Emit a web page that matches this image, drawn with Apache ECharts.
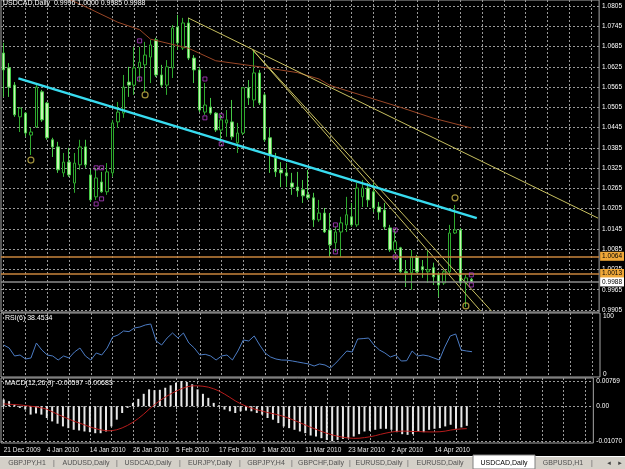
<!DOCTYPE html>
<html>
<head>
<meta charset="utf-8">
<title>USDCAD,Daily</title>
<script src="https://cdn.jsdelivr.net/npm/echarts@6/dist/echarts.min.js"></script>
<style>
  html, body { margin: 0; padding: 0; background: #000; }
  #chart { width: 625px; height: 469px; }
</style>
</head>
<body>
<div id="chart"></div>
<script>
// USDCAD 日线 K线数据
var opens = [1.0666,1.0622,1.0571,1.0477,1.0488,1.0423,1.0447,1.0551,1.0518,1.0409,
  1.0388,1.0311,1.0343,1.0281,1.0335,1.0388,1.0305,1.0240,1.0284,1.0255,
  1.0311,1.0462,1.0488,1.0580,1.0571,1.0622,1.0631,1.0654,1.0705,1.0601,
  1.0571,1.0622,1.0743,1.0681,1.0755,1.0651,1.0616,1.0491,1.0506,1.0488,
  1.0438,1.0459,1.0462,1.0400,1.0429,1.0563,1.0527,1.0607,1.0542,1.0415,
  1.0355,1.0320,1.0311,1.0281,1.0269,1.0261,1.0246,1.0237,1.0172,1.0192,
  1.0142,1.0104,1.0136,1.0157,1.0181,1.0157,1.0240,1.0266,1.0255,1.0210,
  1.0201,1.0148,1.0083,1.0089,1.0018,1.0015,1.0062,1.0033,1.0018,1.0030,
  1.0009,0.9985,1.0018,1.0133,1.0142,0.9985,0.9996];
var closes = [1.0616,1.0565,1.0483,1.0503,1.0429,1.0432,1.0565,1.0468,1.0415,1.0388,
  1.0320,1.0343,1.0305,1.0340,1.0388,1.0335,1.0231,1.0296,1.0255,1.0314,
  1.0459,1.0491,1.0565,1.0571,1.0622,1.0639,1.0660,1.0690,1.0601,1.0571,
  1.0625,1.0740,1.0696,1.0755,1.0651,1.0616,1.0497,1.0512,1.0488,1.0438,
  1.0468,1.0468,1.0418,1.0429,1.0563,1.0533,1.0607,1.0518,1.0409,1.0364,
  1.0314,1.0311,1.0302,1.0269,1.0258,1.0243,1.0237,1.0172,1.0192,1.0136,
  1.0098,1.0136,1.0163,1.0187,1.0157,1.0266,1.0266,1.0231,1.0207,1.0195,
  1.0151,1.0083,1.0107,1.0018,1.0015,1.0062,1.0018,1.0024,1.0024,1.0003,
  0.9979,1.0018,1.0133,1.0142,0.9985,1.0000,0.9988];
var lows = [1.0536,1.0536,1.0477,1.0432,1.0418,1.0364,1.0444,1.0462,1.0409,1.0358,
  1.0311,1.0299,1.0299,1.0252,1.0320,1.0326,1.0225,1.0231,1.0252,1.0246,
  1.0299,1.0444,1.0474,1.0536,1.0542,1.0580,1.0551,1.0577,1.0595,1.0565,
  1.0542,1.0592,1.0675,1.0675,1.0645,1.0577,1.0491,1.0483,1.0483,1.0432,
  1.0400,1.0418,1.0409,1.0370,1.0423,1.0512,1.0506,1.0512,1.0403,1.0311,
  1.0299,1.0269,1.0269,1.0246,1.0240,1.0222,1.0231,1.0151,1.0166,1.0133,
  1.0062,1.0077,1.0062,1.0136,1.0151,1.0151,1.0210,1.0210,1.0195,1.0172,
  1.0142,1.0077,1.0074,1.0015,0.9973,0.9965,1.0015,1.0000,0.9985,0.9979,
  0.9944,0.9979,1.0009,1.0130,0.9982,0.9914,0.9985];
var highs = [1.0696,1.0636,1.0580,1.0506,1.0491,1.0444,1.0571,1.0557,1.0521,1.0415,
  1.0403,1.0370,1.0385,1.0370,1.0409,1.0409,1.0320,1.0326,1.0314,1.0340,
  1.0468,1.0521,1.0601,1.0625,1.0684,1.0684,1.0699,1.0705,1.0711,1.0631,
  1.0645,1.0749,1.0779,1.0770,1.0770,1.0660,1.0625,1.0577,1.0533,1.0491,
  1.0483,1.0497,1.0527,1.0459,1.0565,1.0586,1.0675,1.0616,1.0548,1.0444,
  1.0370,1.0343,1.0340,1.0311,1.0314,1.0290,1.0320,1.0252,1.0231,1.0207,
  1.0192,1.0151,1.0181,1.0240,1.0222,1.0281,1.0290,1.0281,1.0281,1.0225,
  1.0222,1.0157,1.0142,1.0092,1.0053,1.0083,1.0068,1.0053,1.0083,1.0045,
  1.0018,1.0024,1.0157,1.0216,1.0148,1.0009,1.0000];

// RSI(6)
var rsiValues = [50.0,44.8,31.1,32.8,25.9,27.7,53.4,41.4,32.8,31.1,
  24.2,31.1,27.7,38.0,44.8,31.1,24.2,36.3,32.8,44.8,
  63.7,67.2,74.1,73.0,79.2,80.9,84.4,86.1,56.9,50.0,
  62.0,70.6,62.0,70.6,53.4,44.8,32.8,34.0,31.1,24.2,
  31.1,32.8,24.2,39.7,58.6,56.9,65.5,50.0,36.3,29.4,
  25.9,24.2,24.0,22.5,20.8,19.1,17.4,13.9,17.4,15.6,
  10.5,19.1,29.4,39.7,38.0,60.3,61.0,62.0,50.0,41.4,
  36.3,29.4,32.8,22.5,23.0,39.7,31.1,32.8,31.1,27.7,
  24.2,46.6,65.5,68.9,41.4,39.7,38.4534];

// MACD(12,26,9) 柱和信号线
var macdValues = [0.00206,0.00154,0.00052,-0.00052,-0.00102,-0.00255,-0.00220,-0.00255,-0.00360,-0.00462,
  -0.00532,-0.00615,-0.00668,-0.00717,-0.00738,-0.00769,-0.00791,-0.00822,-0.00822,-0.00769,
  -0.00615,-0.00409,-0.00206,-0.00052,0.00102,0.00225,0.00378,0.00514,0.00490,0.00500,
  0.00563,0.00637,0.00717,0.00769,0.00738,0.00668,0.00514,0.00378,0.00255,0.00102,
  0.00030,-0.00102,-0.00154,-0.00206,-0.00154,-0.00133,-0.00154,-0.00205,-0.00256,-0.00359,
  -0.00410,-0.00513,-0.00615,-0.00667,-0.00718,-0.00769,-0.00821,-0.00892,-0.00923,-0.00974,
  -0.01026,-0.01070,-0.01026,-0.00995,-0.00974,-0.00923,-0.00851,-0.00769,-0.00749,-0.00718,
  -0.00687,-0.00687,-0.00718,-0.00790,-0.00851,-0.00872,-0.00851,-0.00769,-0.00790,-0.00718,
  -0.00687,-0.00667,-0.00615,-0.00564,-0.00687,-0.00646,-0.00597];
var signalValues = [0.0007,0.0006,0.0005,0.0004,0.0002,0.0000,-0.0002,-0.0005,-0.0009,-0.00167,
  -0.00243,-0.00317,-0.00385,-0.00454,-0.00507,-0.00568,-0.00628,-0.00679,-0.00719,-0.00746,
  -0.00746,-0.00717,-0.0066,-0.00584,-0.00487,-0.00374,-0.00241,-0.00092,0.00047,0.00171,
  0.00279,0.00373,0.00458,0.00533,0.0059,0.00622,0.00622,0.00609,0.00582,0.00531,
  0.00463,0.00372,0.0027,0.00165,0.00074,0.00002,-0.00057,-0.00108,-0.00148,-0.00191,
  -0.00226,-0.00266,-0.00311,-0.00368,-0.00433,-0.00501,-0.0057,-0.0064,-0.00703,-0.00766,
  -0.00823,-0.00873,-0.00913,-0.00944,-0.00967,-0.00978,-0.00974,-0.00956,-0.00931,-0.00897,
  -0.00855,-0.00817,-0.00786,-0.00766,-0.00758,-0.0076,-0.00769,-0.00771,-0.00779,-0.00783,
  -0.00783,-0.00777,-0.00758,-0.00726,-0.00705,-0.0069,-0.00683];

// 移动平均线 [K线序号, 价格]
var maPoints = [[11,1.0832],[14,1.0811],[21,1.0757],[25,1.0735],[27,1.0707],[34,1.0680],
  [39,1.0643],[44,1.0632],[48,1.0623],[54,1.0608],[58,1.0589],[60,1.0570],
  [67,1.0535],[73,1.0505],[79,1.0473],[86,1.0444]];

// 趋势线
var cyanLine = [[2.7,1.0591],[87.0,1.0177]];
var yellowLines = [
  [[33.9,1.0770],[109.3,1.0177]],
  [[45.8,1.0675],[87.7,0.9902]],
  [[45.8,1.0675],[89.7,0.9902]]
];

// 水平线
var levelLines = [1.0064, 1.0013];
var bidPrice = 0.9988;

// 分形标记
var squareMarks = [[17,1.0326],[18,1.0326],[17,1.0219],[18,1.0234],[25,1.0702],[25,1.0589],
  [37,1.0589],[37,1.0474],[40,1.0480],[40,1.0397],[61,1.0157],[61,1.0077],
  [72,1.0142],[72,1.0062],[86,1.0009],[86,0.9979]];
var circleMarks = [[5,1.0349],[26,1.0542],[83,1.0237],[85,0.9917]];

// 刻度
var priceTicks = [0.9905,0.9965,1.0025,1.0085,1.0145,1.0205,1.0265,1.0325,
  1.0385,1.0445,1.0505,1.0565,1.0625,1.0685,1.0745,1.0805];
var rsiTicks = [0, 100];
var macdTicks = [0.00769, 0, -0.01070];

var tabNames = ["GBPJPY,H1","AUDUSD,Daily","USDCAD,Daily","EURJPY,Daily","GBPJPY,H4",
  "GBPCHF,Daily","EURUSD,Daily","EURUSD,Daily","USDCAD,Daily","GBPUSD,H1"];
var activeTab = 8;

// 日期分类 (跳过周末和节假日)
var slots = 110;
var monthNames = ["Jan","Feb","Mar","Apr","May","Jun","Jul","Aug","Sep","Oct","Nov","Dec"];
var holidays = ["2009-12-25","2010-01-01"];
var categories = [];
var day = new Date(Date.UTC(2009, 11, 21));
while (categories.length < slots) {
  var wd = day.getUTCDay();
  var key = day.toISOString().slice(0, 10);
  if (wd !== 0 && wd !== 6 && holidays.indexOf(key) < 0) {
    categories.push(day.getUTCDate() + " " + monthNames[day.getUTCMonth()] + " " + day.getUTCFullYear());
  }
  day.setUTCDate(day.getUTCDate() + 1);
}
var vGrid = [];
for (var k = 0; k < slots; k += 4) vGrid.push(k);

var candleData = opens.map(function (o, i) {
  return [o, closes[i], lows[i], highs[i]];
});

var chart = echarts.init(document.getElementById("chart"));
var FONT = "Liberation Sans";
var gridLine = { color: "#9a9a9a", type: [2, 2], width: 1 };
var showDate = function (index) { return index % 8 === 0 && index <= 80; };

function catAxis(g, withLabels) {
  return {
    type: "category", gridIndex: g, data: categories, boundaryGap: true,
    axisLine: { show: false },
    axisTick: { show: withLabels, interval: showDate, alignWithLabel: true, length: 3,
      lineStyle: { color: "#c0c0c0" } },
    axisLabel: { show: withLabels, interval: showDate, align: "left", margin: 4,
      color: "#e6e6e6", fontSize: 6.5, fontFamily: FONT },
    splitLine: { show: false }
  };
}
function valAxis(g) {
  return {
    type: "value", gridIndex: g, min: -0.5, max: slots - 0.5,
    axisLine: { show: false },
    axisTick: { show: false, customValues: vGrid },
    axisLabel: { show: false, customValues: vGrid },
    splitLine: { show: true, lineStyle: gridLine }
  };
}
function lineSeries(data, color, width) {
  return {
    type: "line", xAxisIndex: 1, yAxisIndex: 0, data: data, showSymbol: false,
    silent: true, lineStyle: { color: color, width: width }, z: 4
  };
}
function levelLabel(bg, fg) {
  return {
    show: true, position: "end", distance: 1, color: fg, backgroundColor: bg,
    fontSize: 6.5, fontFamily: FONT, padding: [1, 2, 1, 2],
    formatter: function (p) { return Number(p.value).toFixed(4); }
  };
}

var series = [
  {
    type: "candlestick", xAxisIndex: 0, yAxisIndex: 0, data: candleData,
    barWidth: 3, clip: false,
    itemStyle: { color: "#000000", color0: "#c8f5b4", borderColor: "#2eaa2e",
      borderColor0: "#46c846", borderWidth: 1 },
    markLine: {
      symbol: "none", silent: true, animation: false, precision: 4,
      data: [
        { yAxis: levelLines[0], lineStyle: { color: "#c8843c", width: 1.5, type: "solid" },
          label: levelLabel("#f0a838", "#000") },
        { yAxis: levelLines[1], lineStyle: { color: "#c8843c", width: 1.5, type: "solid" },
          label: levelLabel("#f0a838", "#000") },
        { yAxis: bidPrice, lineStyle: { color: "#8c8c8c", width: 1.5, type: "solid" },
          label: levelLabel("#ffffff", "#000") }
      ]
    }
  },
  lineSeries(maPoints, "#9a4626", 1),
  lineSeries(yellowLines[0], "#c8c060", 1),
  lineSeries(yellowLines[1], "#c8c060", 1),
  lineSeries(yellowLines[2], "#c8c060", 1),
  lineSeries(cyanLine, "#38dcf0", 2.5),
  {
    type: "scatter", xAxisIndex: 1, yAxisIndex: 0, data: squareMarks, symbol: "rect",
    symbolSize: 4, silent: true, z: 5,
    itemStyle: { color: "rgba(0,0,0,0)", borderColor: "#b440c8", borderWidth: 1 }
  },
  {
    type: "scatter", xAxisIndex: 1, yAxisIndex: 0, data: circleMarks, symbol: "circle",
    symbolSize: 6, silent: true, z: 5,
    itemStyle: { color: "rgba(0,0,0,0)", borderColor: "#c8b448", borderWidth: 1.2 }
  },
  {
    type: "line", xAxisIndex: 2, yAxisIndex: 1, data: rsiValues, showSymbol: false,
    silent: true, lineStyle: { color: "#4c7cc4", width: 1 }
  },
  {
    type: "bar", xAxisIndex: 4, yAxisIndex: 2, data: macdValues, barWidth: 2,
    silent: true, itemStyle: { color: "#e8e8e8" }
  },
  {
    type: "line", xAxisIndex: 4, yAxisIndex: 2, data: signalValues, showSymbol: false,
    silent: true, lineStyle: { color: "#b81c1c", width: 1 }, z: 4
  }
];

// 底部标签页
var tabCenters = [27, 86, 148, 210, 266, 321, 379, 440, 504, 563];
var tabSeps = [54, 117, 180, 240, 292, 350, 408, 592];
var graphics = [
  { type: "rect", shape: { x: 0, y: 456, width: 625, height: 13 }, style: { fill: "#d4d0c8" } },
  { type: "line", shape: { x1: 0, y1: 456.5, x2: 625, y2: 456.5 }, style: { stroke: "#ffffff", lineWidth: 1 } },
  { type: "rect", shape: { x: 473, y: 455, width: 62, height: 14 },
    style: { fill: "#ffffff", stroke: "#808080", lineWidth: 1 } }
];
tabNames.forEach(function (name, i) {
  graphics.push({ type: "text", x: tabCenters[i], y: 463,
    style: { text: name, fill: i === activeTab ? "#000000" : "#505050", font: "7px " + FONT,
      align: "center", verticalAlign: "middle" } });
});
tabSeps.forEach(function (x) {
  graphics.push({ type: "text", x: x, y: 463,
    style: { text: "|", fill: "#606060", font: "7px " + FONT, align: "center", verticalAlign: "middle" } });
});
graphics.push({ type: "text", x: 609, y: 463, style: { text: "◂", fill: "#404040",
  font: "7px DejaVu Sans", align: "center", verticalAlign: "middle" } });
graphics.push({ type: "text", x: 620, y: 463, style: { text: "▸", fill: "#404040",
  font: "7px DejaVu Sans", align: "center", verticalAlign: "middle" } });

var titleStyle = { color: "#ffffff", fontSize: 7, fontWeight: "normal", fontFamily: FONT };

chart.setOption({
  backgroundColor: "#000000",
  animation: false,
  title: [
    { text: "USDCAD,Daily  0.9996 1.0000 0.9985 0.9988", left: 3, top: 0, padding: 0, textStyle: titleStyle },
    { text: "RSI(6) 38.4534", left: 5, top: 315, padding: 0, textStyle: titleStyle },
    { text: "MACD(12,26,9) -0.00597 -0.00683", left: 5, top: 380, padding: 0, textStyle: titleStyle }
  ],
  grid: [
    { left: 1, width: 599, top: 0, height: 312, show: true, backgroundColor: "#000", borderColor: "#a8a8a8", borderWidth: 1 },
    { left: 1, width: 599, top: 313, height: 64, show: true, backgroundColor: "#000", borderColor: "#a8a8a8", borderWidth: 1 },
    { left: 1, width: 599, top: 378, height: 65, show: true, backgroundColor: "#000", borderColor: "#a8a8a8", borderWidth: 1 }
  ],
  xAxis: [catAxis(0, false), valAxis(0), catAxis(1, false), valAxis(1), catAxis(2, true), valAxis(2)],
  yAxis: [
    {
      type: "value", gridIndex: 0, position: "right", min: 0.9899, max: 1.0823, scale: true,
      axisLine: { show: false },
      axisTick: { show: false, customValues: priceTicks },
      axisLabel: { customValues: priceTicks, margin: 3, color: "#ffffff", fontSize: 6.5, fontFamily: FONT,
        formatter: function (v) { return v.toFixed(4); } },
      splitLine: { show: true, lineStyle: gridLine }
    },
    {
      type: "value", gridIndex: 1, position: "right", min: -5, max: 105,
      axisLine: { show: false },
      axisTick: { show: false, customValues: rsiTicks },
      axisLabel: { customValues: rsiTicks, margin: 3, color: "#ffffff", fontSize: 6.5, fontFamily: FONT },
      splitLine: { show: false }
    },
    {
      type: "value", gridIndex: 2, position: "right", min: -0.0112, max: 0.0086,
      axisLine: { show: false },
      axisTick: { show: false, customValues: macdTicks },
      axisLabel: { customValues: macdTicks, margin: 3, color: "#ffffff", fontSize: 6.5, fontFamily: FONT,
        formatter: function (v) { return v === 0 ? "0.00" : v.toFixed(5); } },
      splitLine: { show: true, lineStyle: gridLine }
    }
  ],
  series: series,
  graphic: graphics
});
</script>
</body>
</html>
